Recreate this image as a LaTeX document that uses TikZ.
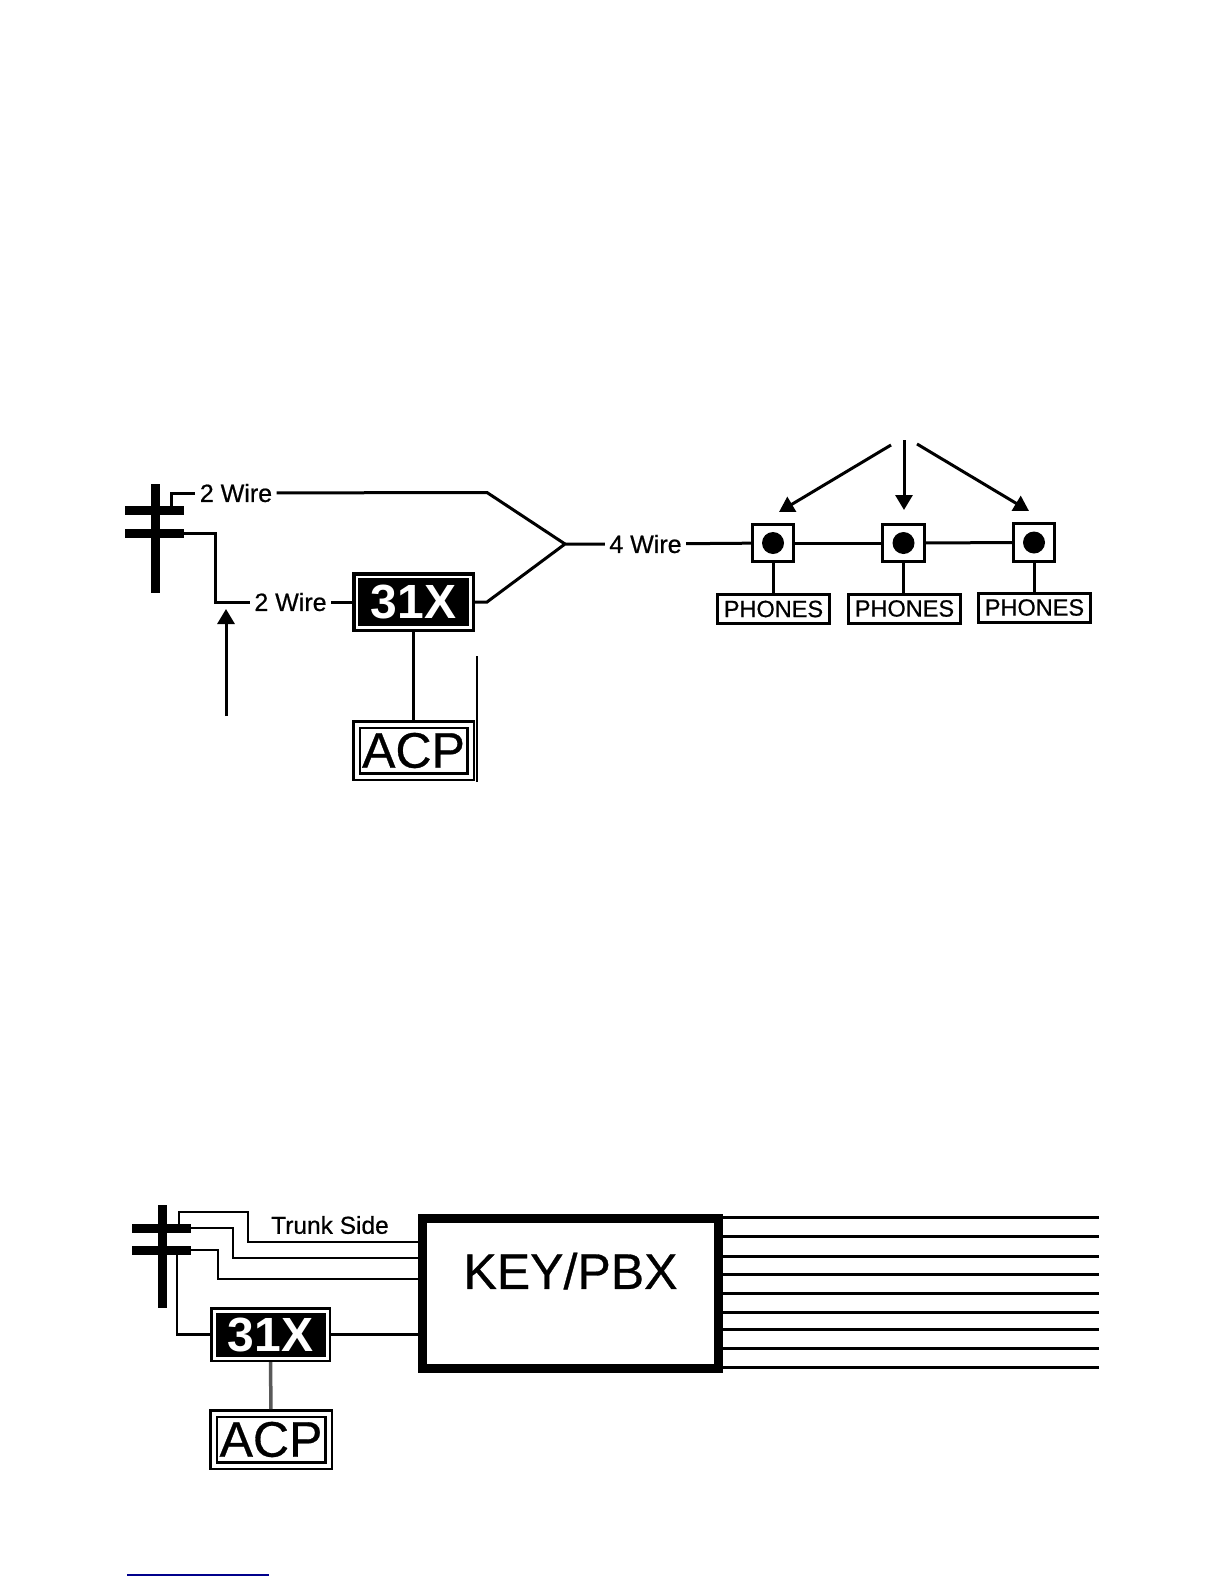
\documentclass[tikz,border=0pt]{standalone}
\usepackage{fontspec}
\setmainfont{Liberation Sans}
\newfontfamily\heavyfont{Liberation Sans}[FakeBold=0.6]
\usetikzlibrary{positioning,arrows.meta,calc}

\begin{document}
\begin{tikzpicture}[
  x=1pt, y=-1pt,
  wire/.style={line width=3pt},
  thin wire/.style={line width=2.6pt},
  arr/.style={-{Triangle[length=15pt,width=17pt]}, line width=3pt},
  bar/.style={fill=black, inner sep=0pt, outer sep=0pt},
  lab/.style={inner sep=0pt, outer sep=4.5pt, font=\heavyfont\fontsize{25}{25}\selectfont},
  unit/.style={draw, fill=black, text=white, double=white, line width=3.5pt, double distance=2.5pt, inner sep=0pt, outer sep=4.75pt, font=\bfseries\fontsize{48}{48}\selectfont},
  panel/.style={draw, fill=white, double=white, line width=2.5pt, double distance=4pt, inner sep=0pt, outer sep=4.5pt, font=\heavyfont\fontsize{50}{50}\selectfont},
  jack/.style={draw, line width=3pt, minimum width=41.5pt, minimum height=37.5pt, inner sep=0pt, outer sep=1.5pt},
  dot/.style={circle, fill=black, minimum size=22pt, inner sep=0pt},
  phones/.style={draw, line width=3pt, minimum width=112pt, minimum height=29pt, inner sep=0pt, outer sep=1.5pt, font=\heavyfont\fontsize{23.5}{23.5}\selectfont}
]
\useasboundingbox (0,0) rectangle (1224,1584);

% upper drawing
\node[bar, minimum width=9pt, minimum height=109pt] (poleA) at (155,538.5) {};
\node[bar, minimum width=59pt, minimum height=9pt] (armA) at (154.5,510) {};
\node[bar, minimum width=59pt, minimum height=9pt] (armB) at (154.5,533) {};
\node[lab] (wireA) at (236,493) {2 Wire};
\node[lab] (wireB) at (290.5,602) {2 Wire};
\node[lab] (wireC) at (645.5,544) {4 Wire};
\node[unit, minimum width=113.5pt, minimum height=50.5pt] (relayA) at (413.5,602) {31X};
\node[panel, minimum width=114pt, minimum height=52pt] (acpA) at (413.5,750.5) {ACP};
\node[jack] (jackA) at (773,543) {};
\node[jack] (jackB) at (903.5,543) {};
\node[jack] (jackC) at (1034,542.5) {};
\node[dot] at (jackA) {};
\node[dot] at (jackB) {};
\node[dot] at (jackC) {};
\node[phones] (phonesA) at (773.5,609) {PHONES};
\node[phones] (phonesB) at (904.5,608.5) {PHONES};
\node[phones] (phonesC) at (1034.5,607.5) {PHONES};

\coordinate (tapA) at (171,510);
\coordinate (bendA) at (215,602);
\coordinate (forkA) at (487,492.5);
\coordinate (forkB) at (487,602);
\coordinate (mergeA) at (565,544);
\coordinate (tailA) at (226,716);
\coordinate (tipA) at (226,609);
\coordinate (edgeA) at (477,656);
\coordinate (edgeB) at (477,782);
\coordinate (fromA) at (891,445);
\coordinate (fromB) at (904,440);
\coordinate (fromC) at (917,444);
\coordinate (tipB) at (779,512);
\coordinate (tipC) at (904,510);
\coordinate (tipD) at (1029,511);

\draw[wire] (tapA) |- (wireA);
\draw[wire] (wireA) -- (forkA) -- (mergeA);
\draw[wire] (armB.east) -| (bendA) -- (wireB);
\draw[wire] (wireB) -- (relayA);
\draw[wire] (relayA.east |- forkB) -- (forkB) -- (mergeA) -- (wireC);
\draw[wire] (wireC) -- (jackA);
\draw[wire] (jackA) -- (jackB);
\draw[wire] (jackB) -- (jackC);
\draw[wire] (jackA) -- (phonesA.north -| jackA);
\draw[wire] (jackB) -- (phonesB.north -| jackB);
\draw[wire] (jackC) -- (phonesC.north -| jackC);
\draw[wire] (relayA) -- (acpA);
\draw[line width=1.3pt] (edgeA) -- (edgeB);
\draw[arr] (tailA) -- (tipA);
\draw[arr] (fromA) -- (tipB);
\draw[arr] (fromB) -- (tipC);
\draw[arr] (fromC) -- (tipD);

% lower drawing
\node[bar, minimum width=9pt, minimum height=103pt] (poleB) at (162,1256.5) {};
\node[bar, minimum width=59pt, minimum height=9pt] (armC) at (161.5,1228) {};
\node[bar, minimum width=59pt, minimum height=9pt] (armD) at (161.5,1250) {};
\node[draw, line width=9pt, minimum width=296pt, minimum height=150pt, inner sep=0pt, outer sep=4.5pt] (pbx) at (570.5,1293.5) {};
\node[inner sep=0pt, font=\heavyfont\fontsize{50}{50}\selectfont] (pbxtext) at (570.5,1271) {KEY/PBX};
\node[inner sep=0pt, font=\heavyfont\fontsize{24.5}{24.5}\selectfont] (trunk) at (330,1225) {Trunk Side};
\node[unit, line width=2.5pt, double distance=3pt, outer sep=4pt, minimum width=113pt, minimum height=47pt] (relayB) at (270.5,1334.5) {31X};
\node[panel, minimum width=115pt, minimum height=52pt] (acpB) at (271,1439.5) {ACP};

\coordinate (tapB) at (179,1224);
\coordinate (bendB) at (248,1212);
\coordinate (bendC) at (248,1242);
\coordinate (bendD) at (233,1258);
\coordinate (bendE) at (218,1279);
\coordinate (tapC) at (177,1254);

\draw[thin wire] (tapB) |- (bendB) -- (bendC) -- (pbx.west |- bendC);
\draw[thin wire] (armC.east) -| (bendD) -- (pbx.west |- bendD);
\draw[thin wire] (armD.east) -| (bendE) -- (pbx.west |- bendE);
\draw[thin wire] (tapC) |- (relayB);
\draw[thin wire] (relayB) -- (pbx.west |- relayB);
\draw[line width=3.5pt, black!65] (relayB) -- (acpB);

\coordinate (extA) at (1099,1217);  \draw[wire] (pbx.east |- extA) -- (extA);
\coordinate (extB) at (1099,1236);  \draw[wire] (pbx.east |- extB) -- (extB);
\coordinate (extC) at (1099,1256);  \draw[wire] (pbx.east |- extC) -- (extC);
\coordinate (extD) at (1099,1274);  \draw[wire] (pbx.east |- extD) -- (extD);
\coordinate (extE) at (1099,1293);  \draw[wire] (pbx.east |- extE) -- (extE);
\coordinate (extF) at (1099,1312);  \draw[wire] (pbx.east |- extF) -- (extF);
\coordinate (extG) at (1099,1329);  \draw[wire] (pbx.east |- extG) -- (extG);
\coordinate (extH) at (1099,1348);  \draw[wire] (pbx.east |- extH) -- (extH);
\coordinate (extI) at (1099,1367);  \draw[wire] (pbx.east |- extI) -- (extI);

% stray rule at the foot of the page
\coordinate (ruleA) at (127,1575);
\coordinate (ruleB) at (269,1575);
\draw[line width=1.6pt, blue!55!black] (ruleA) -- (ruleB);
\end{tikzpicture}
\end{document}
